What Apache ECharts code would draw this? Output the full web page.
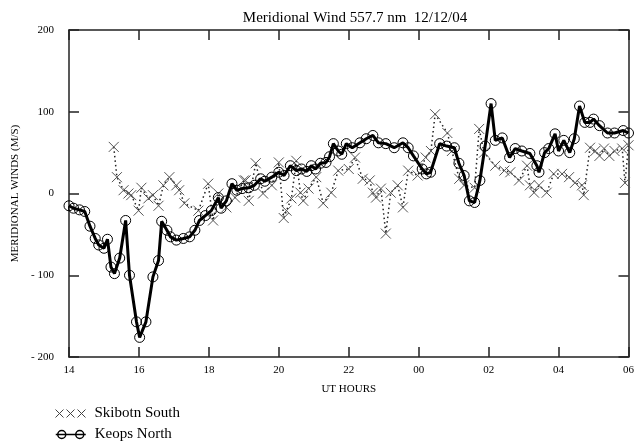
<!DOCTYPE html>
<html>
<head>
<meta charset="utf-8">
<script src="https://cdn.jsdelivr.net/npm/echarts@6/dist/echarts.min.js"></script>
<style>html,body{margin:0;padding:0;background:#fff}#c{width:637px;height:446px}</style>
</head>
<body>
<div id="c"></div>
<script>
var titleText = 'Meridional Wind 557.7 nm  12/12/04';
var xTicks = [14, 16, 18, 20, 22, 24, 26, 28, 30];
var yTicks = [-200, -100, 0, 100, 200];

var keopsHours = [14.0, 14.13, 14.3, 14.45, 14.6, 14.75, 14.85, 15.0, 15.1, 15.2, 15.3, 15.45, 15.62, 15.73, 15.93, 16.02, 16.2, 16.4, 16.56, 16.65, 16.8, 16.9, 17.07, 17.27, 17.45, 17.6, 17.73, 17.9, 18.07, 18.27, 18.35, 18.5, 18.66, 18.8, 18.95, 19.14, 19.3, 19.48, 19.6, 19.8, 20.0, 20.15, 20.33, 20.5, 20.65, 20.8, 20.93, 21.05, 21.19, 21.35, 21.45, 21.56, 21.7, 21.8, 21.93, 22.1, 22.32, 22.5, 22.69, 22.85, 23.06, 23.3, 23.55, 23.7, 23.85, 24.1, 24.22, 24.34, 24.6, 24.8, 25.02, 25.15, 25.3, 25.45, 25.6, 25.75, 25.9, 26.07, 26.19, 26.39, 26.6, 26.76, 26.95, 27.18, 27.38, 27.44, 27.6, 27.72, 27.9, 28.0, 28.15, 28.32, 28.45, 28.6, 28.75, 28.9, 29.0, 29.17, 29.4, 29.6, 29.85, 30.0];
var keopsWinds = [-15, -18, -20, -22, -40, -55, -63, -67, -56, -90, -98, -79, -33, -100, -157, -176, -157, -102, -82, -34, -45, -53, -57, -55, -53, -45, -33, -27, -21, -5, -18, -9, 12, 4, 6, 7, 10, 18, 15, 20, 26, 22, 34, 28, 30, 27, 34, 30, 37, 38, 45, 61, 52, 48, 61, 56, 62, 67, 71, 62, 61, 56, 62, 56, 46, 30, 24, 26, 61, 58, 56, 37, 22, -9, -11, 16, 58, 110, 65, 68, 44, 55, 52, 49, 34, 26, 50, 55, 73, 52, 65, 50, 67, 107, 87, 87, 91, 83, 74, 74, 77, 74];

var skibotnHours = [15.28, 15.37, 15.56, 15.7, 15.78, 15.99, 16.07, 16.27, 16.4, 16.56, 16.7, 16.87, 17.07, 17.15, 17.3, 17.7, 17.98, 18.12, 18.27, 18.5, 18.75, 19.0, 19.05, 19.14, 19.34, 19.55, 19.8, 20.0, 20.14, 20.22, 20.36, 20.5, 20.62, 20.7, 20.85, 21.07, 21.27, 21.5, 21.7, 22.0, 22.18, 22.4, 22.6, 22.69, 22.78, 22.92, 23.06, 23.2, 23.4, 23.55, 23.7, 23.97, 24.2, 24.35, 24.47, 24.82, 24.95, 25.16, 25.3, 25.6, 25.73, 25.87, 26.19, 26.45, 26.62, 26.87, 27.1, 27.18, 27.3, 27.44, 27.66, 27.86, 28.1, 28.3, 28.47, 28.67, 28.72, 28.9, 29.05, 29.17, 29.3, 29.45, 29.6, 29.82, 29.9, 30.0];
var skibotnWinds = [57, 20, 4, 0, -2, -21, 7, -6, -2, -15, 10, 20, 10, 4, -12, -21, 12, -33, 0, -17, -5, 16, 16, -9, 37, 0, 10, 38, -30, -21, -6, 40, 1, -9, 6, 20, -12, 1, 28, 30, 44, 18, 16, 1, -5, 6, -49, 1, 10, -17, 28, 22, 44, 52, 97, 74, 52, 18, 10, 7, 79, 50, 34, 28, 26, 16, 34, 10, 1, 10, 1, 24, 24, 20, 13, 10, -2, 56, 52, 46, 55, 46, 52, 55, 13, 59];

function pairs(xs, ys) { return xs.map(function (x, i) { return [x, ys[i]]; }); }

var FONT = 'Liberation Serif';
var chart = echarts.init(document.getElementById('c'), null, { renderer: 'canvas' });

var axisLineStyle = { color: '#222', width: 1.5 };
function xAxisCfg(pos, showLabel) {
  return {
    type: 'value', position: pos, min: xTicks[0], max: xTicks[xTicks.length - 1], interval: 2,
    axisLine: { show: true, onZero: false, lineStyle: axisLineStyle },
    axisTick: { show: true, inside: true, length: 10, lineStyle: { color: '#222', width: 1.5 } },
    axisLabel: {
      show: showLabel, color: '#000', fontFamily: FONT, fontSize: 11, margin: 8,
      formatter: function (v) { var h = v % 24; return (h < 10 ? '0' : '') + h; }
    },
    splitLine: { show: false },
    name: showLabel ? 'UT HOURS' : '', nameLocation: 'middle', nameGap: 27,
    nameTextStyle: { color: '#000', fontFamily: FONT, fontSize: 11 }
  };
}
function yAxisCfg(pos, showLabel) {
  return {
    type: 'value', position: pos, min: yTicks[0], max: yTicks[yTicks.length - 1], interval: 100,
    axisLine: { show: true, onZero: false, lineStyle: axisLineStyle },
    axisTick: { show: true, inside: true, length: 10, lineStyle: { color: '#222', width: 1.5 } },
    axisLabel: {
      show: showLabel, color: '#000', fontFamily: FONT, fontSize: 11, margin: 15,
      formatter: function (v) { return v < 0 ? '- ' + (-v) : String(v); }
    },
    splitLine: { show: false },
    name: showLabel ? 'MERIDIONAL WINDS (M/S)' : '', nameLocation: 'middle', nameGap: 44, nameRotate: 90,
    nameTextStyle: { color: '#000', fontFamily: FONT, fontSize: 11 }
  };
}

var xPath = 'path://M0,0L8,8M8,0L0,8M11,0L19,8M19,0L11,8M22,0L30,8M30,0L22,8';
var oPath = 'path://M0,4.5L30,4.5M2,4.5A4,4 0 1 1 10,4.5A4,4 0 1 1 2,4.5M20,4.5A4,4 0 1 1 28,4.5A4,4 0 1 1 20,4.5';
var legendText = { fontFamily: FONT, fontSize: 15, color: '#000', padding: [0, 0, 0, 4] };

chart.setOption({
  animation: false,
  backgroundColor: '#fff',
  title: {
    text: titleText, left: 350, top: 6, textAlign: 'center',
    textStyle: { fontFamily: FONT, fontSize: 15, fontWeight: 'normal', color: '#000' }
  },
  grid: { left: 69, right: 5, top: 30, bottom: 89, containLabel: false },
  legend: [
    {
      orient: 'horizontal', left: 55, top: 406, padding: 0, itemWidth: 30, itemHeight: 8,
      textStyle: legendText,
      data: [{ name: 'Skibotn South', icon: xPath, itemStyle: { color: 'rgba(0,0,0,0)', borderColor: '#444', borderWidth: 1 } }]
    },
    {
      orient: 'horizontal', left: 55, top: 427, padding: 0, itemWidth: 30, itemHeight: 9,
      textStyle: legendText,
      data: [{ name: 'Keops North', icon: oPath, itemStyle: { color: 'rgba(0,0,0,0)', borderColor: '#000', borderWidth: 1.5 } }]
    }
  ],
  xAxis: [xAxisCfg('bottom', true), xAxisCfg('top', false)],
  yAxis: [yAxisCfg('left', true), yAxisCfg('right', false)],
  series: [
    {
      name: 'Skibotn South', type: 'line', xAxisIndex: 0, yAxisIndex: 0,
      data: pairs(skibotnHours, skibotnWinds),
      symbol: 'path://M0,0L10,10M10,0L0,10', symbolSize: 10,
      itemStyle: { color: 'rgba(0,0,0,0)', borderColor: '#555', borderWidth: 1 },
      lineStyle: { color: '#222', width: 1.5, type: [1.5, 3] },
      z: 2
    },
    {
      name: 'Keops North', type: 'line', xAxisIndex: 0, yAxisIndex: 0,
      data: pairs(keopsHours, keopsWinds),
      symbol: 'circle', symbolSize: 10,
      itemStyle: { color: 'rgba(0,0,0,0)', borderColor: '#000', borderWidth: 1 },
      lineStyle: { color: '#000', width: 3 },
      z: 3
    }
  ]
});
</script>
</body>
</html>
